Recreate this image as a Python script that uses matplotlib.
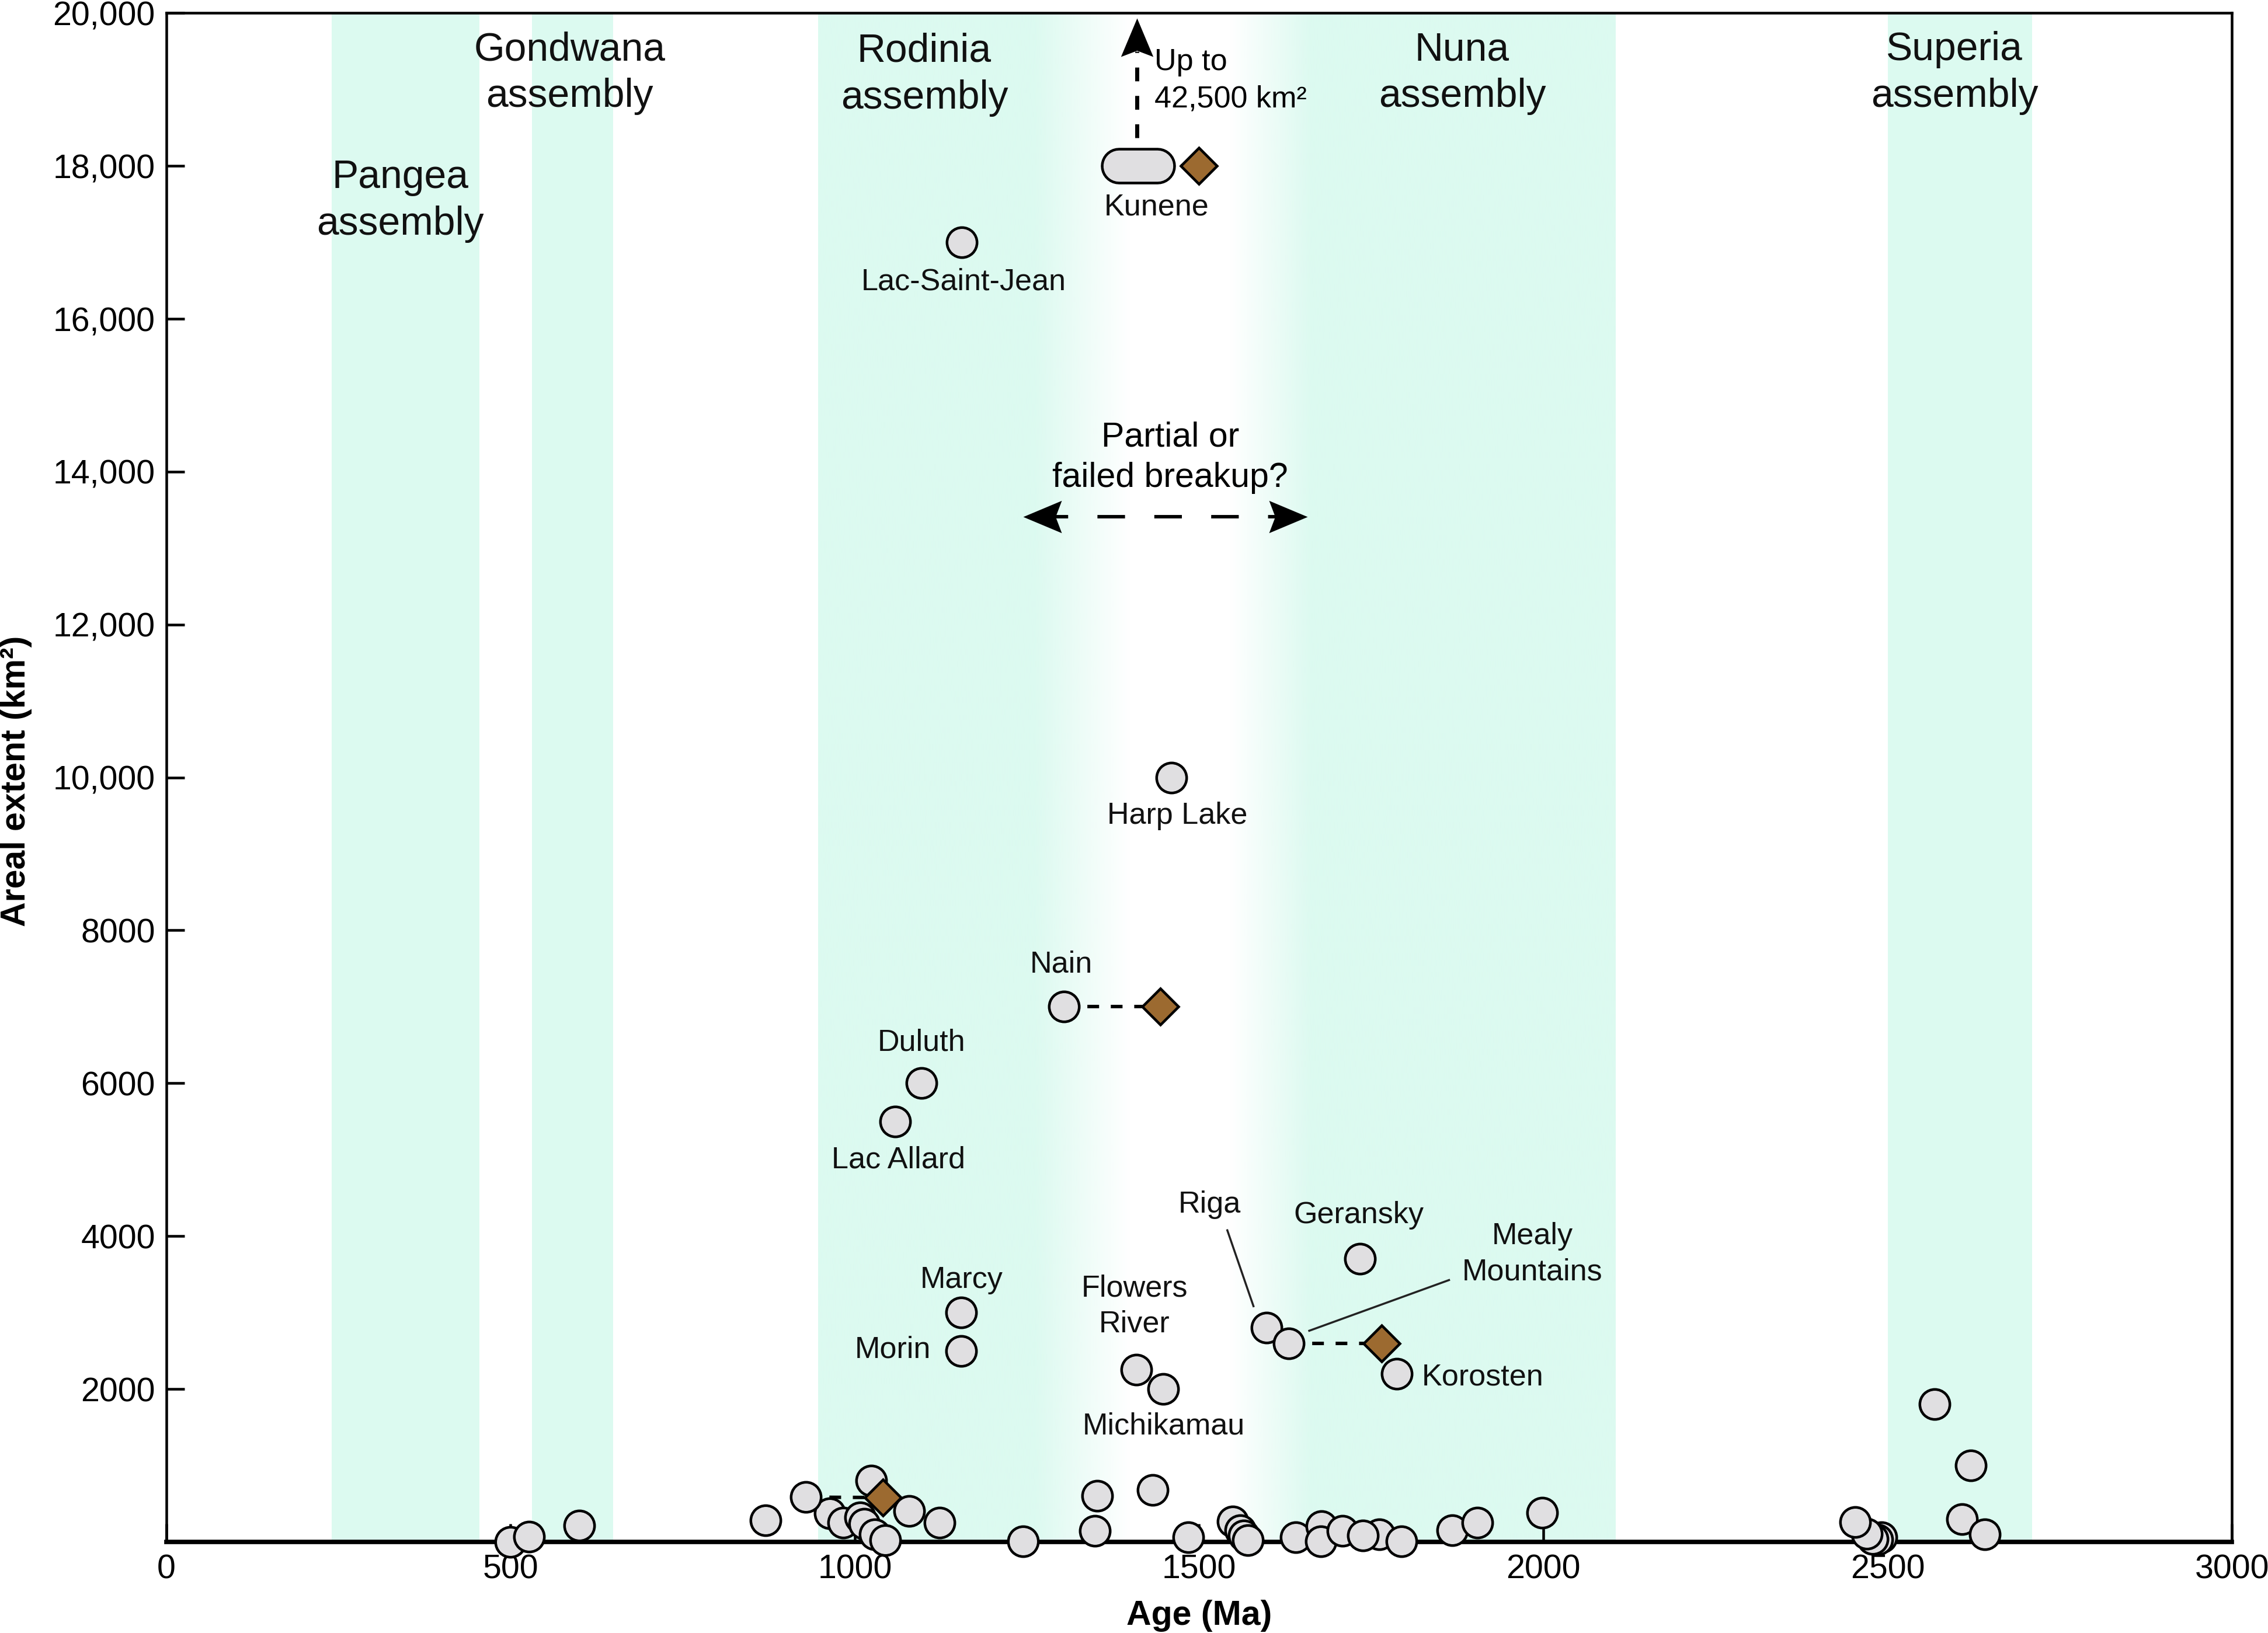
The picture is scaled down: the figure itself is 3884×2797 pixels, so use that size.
import numpy as np
import matplotlib.pyplot as plt
from matplotlib.markers import MarkerStyle
from matplotlib.path import Path
from matplotlib.transforms import Affine2D
from matplotlib.ticker import FuncFormatter

plt.rcParams['font.family'] = ['Liberation Sans', 'DejaVu Sans']

# --- supercontinent assembly windows (Ma) ---
solid_bands = [(240, 455), (531, 649), (2500, 2710)]
# Rodinia -> Nuna band, faded in the middle
rn_ages = [947, 1260, 1400, 1545, 1665, 2105]
rn_alpha = [1, 1, 0, 0, 1, 1]

band_labels = ["Pangea\nassembly", "Gondwana\nassembly", "Rodinia\nassembly",
               "Nuna\nassembly", "Superia\nassembly"]
band_label_age = [340, 586, 1101, 1882, 2597]
band_label_area = [17540, 19215, 19195, 19215, 19215]

# --- named intrusions: age (Ma), areal extent (km2) ---
named = ["Lac-Saint-Jean", "Harp Lake", "Nain", "Duluth", "Lac Allard", "Marcy",
         "Morin", "Flowers River", "Michikamau", "Riga", "Mealy Mountains",
         "Geransky", "Korosten"]
named_age = [1155, 1460, 1304, 1097, 1059, 1154, 1154, 1409, 1448, 1598, 1630, 1734, 1787]
named_area = [17000, 10000, 7000, 6000, 5500, 3000, 2500, 2250, 2000, 2800, 2600, 3700, 2200]

# --- unnamed intrusions ---
other_age = [500, 527, 600, 870, 964, 983, 1008, 1014, 1024, 1029, 1044, 929, 1079, 1123,
             1244, 1349, 1352, 1433, 1484, 1549, 1560, 1565, 1571,
             1640, 1678, 1677, 1708, 1762, 1738, 1794, 1868, 1904, 1998,
             2491, 2485, 2478, 2470, 2453, 2568, 2621, 2608, 2641]
other_area = [0, 70, 210, 285, 370, 255, 320, 233, 805, 102, 20, 585, 407, 255,
              10, 148, 600, 683, 64, 263, 155, 80, 20,
              64, 208, 10, 143, 95, 80, 10, 150, 255, 385,
              60, 30, 40, 110, 262, 1800, 1000, 296, 97]

# --- Kunene (age range) and alternative ages (diamonds) ---
kunene_range = [1383, 1439]
kunene_area = 18000
alt_age = [1500, 1444, 1765, 1041]
alt_area = [18000, 7000, 2600, 580]
alt_from_age = [1439, 1304, 1630, 929]
alt_from_area = [18000, 7000, 2600, 585]

# --- label positions ---
lab_text = ["Kunene", "Lac-Saint-Jean", "Harp Lake", "Nain", "Duluth", "Lac Allard",
            "Marcy", "Morin", "Flowers\nRiver", "Michikamau", "Riga", "Geransky",
            "Mealy\nMountains", "Korosten"]
lab_x = [1438, 1158, 1468, 1300, 1097, 1063, 1155, 1110, 1406, 1449, 1515, 1732, 1984, 1823]
lab_y = [17460, 16480, 9500, 7550, 6530, 4995, 3425, 2510, 3084, 1508, 4409, 4269, 3762, 2157]
lab_ha = ["center"] * 7 + ["right", "center", "center", "center", "center", "center", "left"]

grey = "#e0dfe1"
brown = "#9c6a30"
mint = np.array([220, 250, 240]) / 255

fig = plt.figure(figsize=(3884 / 250, 2797 / 250), dpi=250)
ax = fig.add_axes([0.07334, 0.0558, 0.91072, 0.93623])
ax.set_xlim(0, 3000)
ax.set_ylim(0, 20000)

# bands
for a0, a1 in solid_bands:
    ax.axvspan(a0, a1, color=mint, lw=0, zorder=0)
xs = np.linspace(rn_ages[0], rn_ages[-1], 600)
alpha = np.interp(xs, rn_ages, rn_alpha)
img = np.zeros((1, len(xs), 4))
img[0, :, :3] = mint
img[0, :, 3] = alpha
ax.imshow(img, extent=[rn_ages[0], rn_ages[-1], 0, 20000], aspect="auto",
          interpolation="bilinear", zorder=0)

for t, x, y in zip(band_labels, band_label_age, band_label_area):
    ax.text(x, y, t, ha="center", va="center", fontsize=19.5, color="#111111",
            linespacing=1.32, zorder=5)

# arrowhead marker (pointing up, tip at origin)
head = Path([(0, 0), (0.42, -1), (0, -0.84), (-0.42, -1), (0, 0)],
            [Path.MOVETO, Path.LINETO, Path.LINETO, Path.LINETO, Path.CLOSEPOLY])


def arrow_head(x, y, angle):
    m = MarkerStyle(head, transform=Affine2D().rotate_deg(angle))
    ax.plot([x], [y], marker=m, ms=38, color="black", mew=0, ls="none",
            zorder=5, clip_on=False)


# dashed links to diamonds
for x0, y0, x1, y1 in zip(alt_from_age, alt_from_area, alt_age, alt_area):
    ax.plot([x0, x1], [y0, y1], color="black", lw=1.7, dashes=(3.4, 3.4), zorder=2)

# Kunene "up to" arrow
ax.plot([1410, 1410], [18365, 19500], color="black", lw=2, dashes=(3.4, 3.6), zorder=2)
arrow_head(1410, 19930, 0)
ax.text(1435, 19357, "Up to", ha="left", va="center", fontsize=15, zorder=5)
ax.text(1435, 18870, "42,500 km²", ha="left", va="center", fontsize=15, zorder=5)

# Partial or failed breakup arrow
ax.plot([1270, 1630], [13410, 13410], color="black", lw=1.7, dashes=(8, 8.5), zorder=2)
arrow_head(1244, 13410, 90)
arrow_head(1657, 13410, -90)
ax.text(1458, 14186, "Partial or\nfailed breakup?", ha="center", va="center",
        fontsize=17, linespacing=1.35, zorder=5)

# leader lines
ax.plot([1541, 1579], [4076, 3083], color="#222222", lw=1.0, zorder=2)
ax.plot([1660, 1863], [2762, 3425], color="#222222", lw=1.0, zorder=2)

# Kunene pill
ax.plot(kunene_range, [kunene_area] * 2, color="black", lw=18, solid_capstyle="round", zorder=3)
ax.plot(kunene_range, [kunene_area] * 2, color=grey, lw=15.4, solid_capstyle="round", zorder=3)

# circles
ax.plot(other_age, other_area, "o", ms=14.8, mfc=grey, mec="black", mew=1.3,
        ls="none", zorder=4, clip_on=False)
ax.plot(named_age, named_area, "o", ms=14.8, mfc=grey, mec="black", mew=1.3,
        ls="none", zorder=4, clip_on=False)
ax.plot(alt_age, alt_area, "D", ms=12.6, mfc=brown, mec="black", mew=1.3,
        ls="none", zorder=4, clip_on=False)

for t, x, y, ha in zip(lab_text, lab_x, lab_y, lab_ha):
    ax.text(x, y, t, ha=ha, va="center", fontsize=15, color="#111111",
            linespacing=1.32, zorder=5)

# axes
ax.set_xticks(np.arange(0, 3001, 500))
ax.set_yticks(np.arange(2000, 20001, 2000))
ax.yaxis.set_major_formatter(FuncFormatter(
    lambda v, p: f"{v:,.0f}" if v >= 10000 else f"{v:.0f}"))
ax.tick_params(direction="in", length=8.8, width=1.3, labelsize=16.5, colors="black")
ax.tick_params(axis="x", pad=6)
ax.tick_params(axis="y", pad=5.5)
for s in ax.spines.values():
    s.set_linewidth(1.3)
ax.spines["bottom"].set_linewidth(2.2)

ax.set_xlabel("Age (Ma)", fontsize=17, fontweight="bold")
ax.set_ylabel("Areal extent (km²)", fontsize=17, fontweight="bold")
ax.xaxis.set_label_coords(0.5, -0.0378)
ax.yaxis.set_label_coords(-0.0651, 0.4976)

fig.savefig("out.png", dpi=250)
